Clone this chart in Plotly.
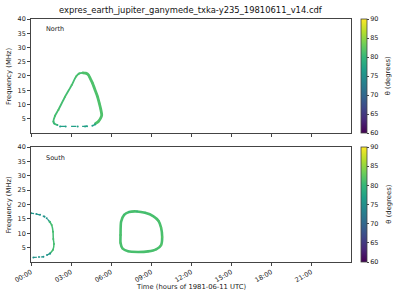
import pandas as pd
import plotly.graph_objects as go
from plotly.subplots import make_subplots
from plotly.colors import sample_colorscale

# ---------------- data (time in hours of 1981-06-11, frequency in MHz, theta in degrees)
north_right_t = [4.80, 5.05, 5.25, 5.30, 5.22, 5.12, 4.98, 4.80, 4.60, 4.42, 4.30, 4.10, 3.87]
north_right_f = [3.2, 4.0, 5.5, 6.3, 8.5, 10.4, 12.8, 15.1, 17.6, 19.3, 20.4, 21.0, 21.1]
north_right_th = [81.0, 81.5, 81.5, 81.5, 81.5, 81.5, 81.5, 81.5, 81.5, 81.5, 81.5, 81.5, 81.5]

north_left_t = [3.87, 3.62, 3.38, 3.05, 2.55, 2.05, 1.80, 1.68, 1.75, 1.98]
north_left_f = [21.1, 20.9, 19.8, 16.8, 12.7, 8.1, 6.0, 4.0, 3.3, 2.8]
north_left_th = [81.5, 81.5, 81.5, 81.5, 81.5, 81.5, 81.0, 80.5, 79.5, 78.5]

north_low_t = [2.18, 2.60, 3.50, 4.05, 4.20, 4.60, 4.80]
north_low_f = [2.3, 2.3, 2.3, 2.3, 2.4, 2.5, 3.0]
north_low_th = [77.0, 77.0, 77.0, 77.0, 77.0, 77.0, 77.0]

south_a_top_t = [0.00, 0.40, 0.68, 1.00, 1.18, 1.40]
south_a_top_f = [17.0, 16.7, 16.4, 15.8, 15.2, 14.0]
south_a_top_th = [75.5, 75.5, 75.5, 75.5, 75.5, 75.5]

south_a_mid_t = [1.40, 1.55, 1.65, 1.67, 1.72, 1.65, 1.43]
south_a_mid_f = [14.0, 12.9, 10.5, 8.0, 6.3, 4.3, 3.0]
south_a_mid_th = [80.5, 81.0, 81.0, 81.0, 81.0, 81.0, 80.0]

south_a_low_t = [1.43, 1.20, 0.93, 0.60, 0.18]
south_a_low_f = [3.0, 2.4, 1.85, 1.7, 1.6]
south_a_low_th = [75.5, 75.5, 75.5, 75.5, 75.5]

south_b_t = [6.71, 6.75, 6.98, 7.35, 7.95, 8.55, 9.15, 9.56, 9.75, 9.83, 9.75, 9.38,
             8.78, 8.03, 7.28, 6.86, 6.71, 6.71]
south_b_f = [9.4, 14.0, 16.4, 17.4, 17.6, 17.1, 16.0, 14.3, 11.9, 8.7, 5.9, 4.4,
             3.7, 3.5, 3.7, 4.7, 6.6, 9.4]
south_b_th = [81.5, 81.0, 80.5, 80.0, 80.0, 80.5, 81.0, 81.5, 82.0, 82.0, 82.0, 81.5,
              81.0, 81.0, 81.0, 81.5, 81.5, 81.5]

yticks = [5, 10, 15, 20, 25, 30, 35, 40]
cbticks = [60, 65, 70, 75, 80, 85, 90]
title_text = "expres_earth_jupiter_ganymede_txka-y235_19810611_v14.cdf"
xtitle = "Time (hours of 1981-06-11 UTC)"
ytitle = "Frequency (MHz)"
cbtitle = "\u03b8 (degrees)"
day0 = pd.Timestamp("1981-06-11 00:00")

FONT = "DejaVu Sans"


def to_time(hours):
    return [day0 + pd.Timedelta(hours=h) for h in hours]


def col(th):
    v = (sum(th) / len(th) - 60) / 30
    return sample_colorscale("Viridis", [v])[0]


fig = make_subplots(rows=2, cols=1, shared_xaxes=False, vertical_spacing=0.0576)


def add(t, f, th, row, width, dash="solid"):
    ca = "coloraxis" if row == 1 else "coloraxis2"
    fig.add_trace(go.Scatter(
        x=to_time(t), y=f, mode="lines+markers",
        line=dict(color=col(th), width=width, dash=dash, shape="spline", smoothing=0.6),
        marker=dict(size=2, color=th, coloraxis=ca),
        showlegend=False, hoverinfo="skip"), row=row, col=1)


add(north_right_t, north_right_f, north_right_th, 1, 2.8)
add(north_left_t, north_left_f, north_left_th, 1, 1.8)
add(north_low_t, north_low_f, north_low_th, 1, 1.3, "5px,6px")
add(south_a_top_t, south_a_top_f, south_a_top_th, 2, 1.2, "3px,3px")
add(south_a_mid_t, south_a_mid_f, south_a_mid_th, 2, 1.5)
add(south_a_low_t, south_a_low_f, south_a_low_th, 2, 1.2, "3px,4px")
add(south_b_t, south_b_f, south_b_th, 2, 2.6)

xr = [day0, day0 + pd.Timedelta(hours=23.98)]
axcommon = dict(showline=True, linecolor="#444", linewidth=0.8, mirror=True,
                ticks="outside", ticklen=3, tickwidth=0.8, tickcolor="#444",
                showgrid=False, zeroline=False)
for r in (1, 2):
    fig.update_xaxes(range=xr, type="date", dtick=3 * 3600 * 1000, tick0=day0,
                     tickformat="%H:%M", tickangle=-30,
                     tickfont=dict(size=6.5, family=FONT, color="#222"),
                     showticklabels=(r == 2), row=r, col=1, **axcommon)
    fig.update_yaxes(range=[0, 40], tickvals=yticks,
                     tickfont=dict(size=6.5, family=FONT, color="#222"),
                     row=r, col=1, **axcommon)

fig.update_layout(
    xaxis=dict(domain=[0, 1]), xaxis2=dict(domain=[0, 1]),
    yaxis=dict(domain=[0.531, 1.0]), yaxis2=dict(domain=[0.0, 0.473]),
)

cb = dict(x=1.031, xanchor="left", yanchor="middle", thickness=6, lenmode="fraction",
          xpad=0, ypad=0, tickvals=cbticks, ticks="outside", ticklen=2, tickwidth=0.8,
          tickfont=dict(size=6.5, family=FONT, color="#222"), outlinewidth=0.8,
          outlinecolor="#444")
fig.update_layout(
    coloraxis=dict(colorscale="Viridis", cmin=60, cmax=90,
                   colorbar=dict(y=0.765, len=0.469, **cb)),
    coloraxis2=dict(colorscale="Viridis", cmin=60, cmax=90,
                    colorbar=dict(y=0.2366, len=0.473, **cb)),
)

ann = [
    dict(text=title_text, x=0.5, y=1.037, xref="paper", yref="paper", showarrow=False,
         xanchor="center", yanchor="middle", font=dict(size=8.4, family=FONT, color="#111")),
    dict(text="North", x=0.04, y=0.958, xref="paper", yref="paper", showarrow=False,
         xanchor="left", yanchor="middle", font=dict(size=6.5, family=FONT, color="#222")),
    dict(text="South", x=0.04, y=0.428, xref="paper", yref="paper", showarrow=False,
         xanchor="left", yanchor="middle", font=dict(size=6.5, family=FONT, color="#222")),
    dict(text=xtitle, x=0.5, y=-0.103, xref="paper", yref="paper", showarrow=False,
         xanchor="center", yanchor="middle", font=dict(size=6.8, family=FONT, color="#222")),
    dict(text=ytitle, x=-0.069, y=0.765, xref="paper", yref="paper", showarrow=False,
         textangle=-90, xanchor="center", yanchor="middle",
         font=dict(size=6.8, family=FONT, color="#222")),
    dict(text=ytitle, x=-0.069, y=0.2366, xref="paper", yref="paper", showarrow=False,
         textangle=-90, xanchor="center", yanchor="middle",
         font=dict(size=6.8, family=FONT, color="#222")),
    dict(text=cbtitle, x=1.116, y=0.765, xref="paper", yref="paper", showarrow=False,
         textangle=-90, xanchor="center", yanchor="middle",
         font=dict(size=6.8, family=FONT, color="#222")),
    dict(text=cbtitle, x=1.116, y=0.2366, xref="paper", yref="paper", showarrow=False,
         textangle=-90, xanchor="center", yanchor="middle",
         font=dict(size=6.8, family=FONT, color="#222")),
]

fig.update_layout(
    width=400, height=300, autosize=False,
    margin=dict(l=31, r=49, t=19, b=38, pad=0),
    paper_bgcolor="white", plot_bgcolor="white",
    font=dict(family=FONT, size=7, color="#222"),
    annotations=ann,
)

fig.write_html("out.html")
